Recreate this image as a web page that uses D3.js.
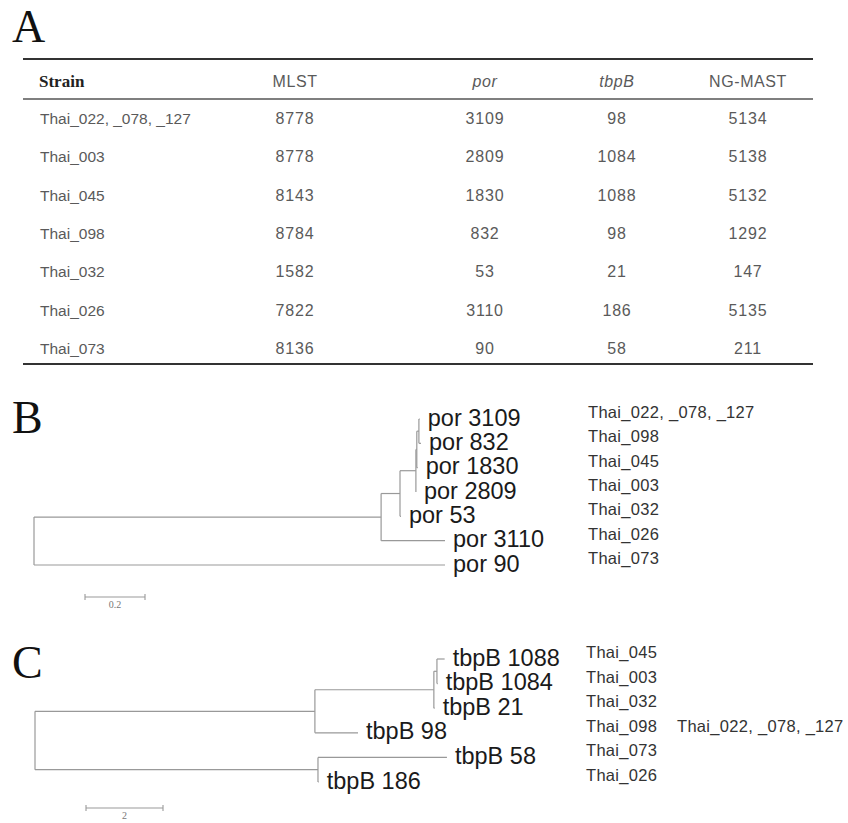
<!DOCTYPE html>
<html><head><meta charset="utf-8">
<script src="https://cdn.jsdelivr.net/npm/d3@7"></script>
<style>body{margin:0;background:#fff}svg{display:block}</style>
</head><body>
<script>
// ---------- Panel A: table data ----------
const tableColumns = ["Strain", "MLST", "por", "tbpB", "NG-MAST"];
const strains = ["Thai_022, _078, _127", "Thai_003", "Thai_045", "Thai_098", "Thai_032", "Thai_026", "Thai_073"];
const mlst = [8778, 8778, 8143, 8784, 1582, 7822, 8136];
const porAlleles = [3109, 2809, 1830, 832, 53, 3110, 90];
const tbpBAlleles = [98, 1084, 1088, 98, 21, 186, 58];
const ngmast = [5134, 5138, 5132, 1292, 147, 5135, 211];

// ---------- Panel B: por tree (parent, child, branch length) ----------
const porEdges = [
  ["root", "nA", 1.157],
  ["nA", "nB", 0.063],
  ["nB", "nC", 0.053],
  ["nC", "nE", 0.003],
  ["nE", "nF", 0.007],
  ["nF", "por 3109", 0.003],
  ["nF", "por 832", 0.007],
  ["nE", "por 1830", 0.003],
  ["nC", "por 2809", 0.0],
  ["nB", "por 53", 0.003],
  ["nA", "por 3110", 0.213],
  ["root", "por 90", 1.37]
];
const porStrains = [["Thai_022, _078, _127"], ["Thai_098"], ["Thai_045"], ["Thai_003"], ["Thai_032"], ["Thai_026"], ["Thai_073"]];
const porScaleBar = 0.2;

// ---------- Panel C: tbpB tree ----------
const tbpBEdges = [
  ["root", "mI", 7.27],
  ["mI", "mG", 3.09],
  ["mG", "mH", 0.08],
  ["mH", "tbpB 1088", 0.2],
  ["mH", "tbpB 1084", 0.02],
  ["mG", "tbpB 21", 0.02],
  ["mI", "tbpB 98", 1.12],
  ["root", "mJ", 7.35],
  ["mJ", "tbpB 58", 3.35],
  ["mJ", "tbpB 186", 0.02]
];
const tbpBStrains = [["Thai_045"], ["Thai_003"], ["Thai_032"], ["Thai_098", "Thai_022, _078, _127"], ["Thai_073"], ["Thai_026"]];
const tbpBScaleBar = 2;

// ---------- drawing ----------
const W = 848, H = 823;
const svg = d3.select("body").append("svg").attr("width", W).attr("height", H);
const SANS = "'Liberation Sans', Arial, sans-serif";
const SERIF = "'Liberation Serif', 'Times New Roman', serif";

// panel letters
[["A", 42], ["B", 433], ["C", 678]].forEach(([t, y]) => {
  svg.append("text").attr("x", 12).attr("y", y).attr("font-family", SERIF)
    .attr("font-size", 46).attr("fill", "#111").text(t);
});

// ---------- table ----------
const colX = d3.scaleOrdinal().domain(tableColumns).range([39, 295, 485, 617, 748]);
const rowY = d3.scalePoint().domain(strains).range([118, 348]);
const tA = svg.append("g");
tA.append("line").attr("x1", 23).attr("x2", 813).attr("y1", 59).attr("y2", 59).attr("stroke", "#333").attr("stroke-width", 2);
tA.append("line").attr("x1", 23).attr("x2", 813).attr("y1", 99).attr("y2", 99).attr("stroke", "#555").attr("stroke-width", 1.3);
tA.append("line").attr("x1", 23).attr("x2", 813).attr("y1", 364).attr("y2", 364).attr("stroke", "#333").attr("stroke-width", 2);

tableColumns.forEach((c, i) => {
  const t = tA.append("text").attr("x", colX(c)).attr("y", 87).text(c);
  if (i === 0) {
    t.attr("font-family", SERIF).attr("font-weight", "bold").attr("font-size", 17).attr("fill", "#222");
  } else {
    t.attr("font-family", SANS).attr("font-size", 16).attr("fill", "#5a5a5a").attr("text-anchor", "middle")
      .attr("letter-spacing", 0.6)
      .attr("font-style", (c === "por" || c === "tbpB") ? "italic" : "normal");
  }
});
const tableCols = [mlst, porAlleles, tbpBAlleles, ngmast];
strains.forEach((s, r) => {
  tA.append("text").attr("x", colX("Strain") + 1).attr("y", rowY(s) + 6)
    .attr("font-family", SANS).attr("font-size", 15.5).attr("fill", "#5a5a5a").text(s);
  tableCols.forEach((arr, ci) => {
    tA.append("text").attr("x", colX(tableColumns[ci + 1])).attr("y", rowY(s) + 6)
      .attr("font-family", SANS).attr("font-size", 16).attr("fill", "#5a5a5a")
      .attr("letter-spacing", 0.8).attr("text-anchor", "middle").text(arr[r]);
  });
});

// ---------- tree helper ----------
function drawTree(edges, strainLists, o) {
  const rows = [{ id: "root", parentId: null, len: 0 }].concat(edges.map(e => ({ id: e[1], parentId: e[0], len: e[2] })));
  const root = d3.stratify().id(d => d.id).parentId(d => d.parentId)(rows);
  root.eachBefore(n => { n.dist = n.parent ? n.parent.dist + n.data.len : 0; });
  const leaves = root.leaves();
  const x = d3.scaleLinear().domain([0, 1]).range([o.x0, o.x0 + o.unitPx]);
  const y = d3.scaleLinear().domain([0, leaves.length - 1]).range([o.yTop, o.yBottom]);
  leaves.forEach((l, i) => { l.py = y(i); });
  root.eachAfter(n => {
    if (n.children) n.py = (n.children[0].py + n.children[n.children.length - 1].py) / 2;
  });
  const g = svg.append("g").attr("fill", "none").attr("stroke", o.lineColor).attr("stroke-width", 1.2);
  root.descendants().forEach(n => {
    if (n.parent) {
      g.append("line").attr("x1", x(n.parent.dist)).attr("x2", x(n.dist))
        .attr("y1", n.py).attr("y2", n.py);
    }
    if (n.children) {
      g.append("line").attr("x1", x(n.dist)).attr("x2", x(n.dist))
        .attr("y1", n.children[0].py).attr("y2", n.children[n.children.length - 1].py);
    }
  });
  const lab = svg.append("g");
  leaves.forEach((l, i) => {
    lab.append("text").attr("x", x(l.dist) + 8).attr("y", l.py + 6.5)
      .attr("font-family", SANS).attr("font-size", 23.5).attr("fill", "#1a1a1a").text(l.id);
    strainLists[i].forEach((s, k) => {
      lab.append("text").attr("x", o.strainX[k]).attr("y", l.py - 1)
        .attr("font-family", SANS).attr("font-size", 16.5).attr("fill", "#333")
        .attr("letter-spacing", 0.3).text(s);
    });
  });
  // scale bar
  const sb = svg.append("g").attr("stroke", o.lineColor).attr("stroke-width", 1.1);
  const bx0 = o.barX, bx1 = o.barX + (x(o.bar) - x(0));
  sb.append("line").attr("x1", bx0).attr("x2", bx1).attr("y1", o.barY).attr("y2", o.barY);
  [bx0, bx1].forEach(bx => sb.append("line").attr("x1", bx).attr("x2", bx).attr("y1", o.barY - 3).attr("y2", o.barY + 3));
  svg.append("text").attr("x", (bx0 + bx1) / 2).attr("y", o.barY + 11).attr("text-anchor", "middle")
    .attr("font-family", SERIF).attr("font-size", 10).attr("fill", "#777").text(o.bar);
}

drawTree(porEdges, porStrains, {
  x0: 34, unitPx: 300, yTop: 419, yBottom: 565, strainX: [588],
  bar: porScaleBar, barX: 85, barY: 597, lineColor: "#999"
});
drawTree(tbpBEdges, tbpBStrains, {
  x0: 35, unitPx: 38.5, yTop: 659, yBottom: 782, strainX: [586, 677],
  bar: tbpBScaleBar, barX: 86, barY: 808, lineColor: "#999"
});
</script>
</body></html>
